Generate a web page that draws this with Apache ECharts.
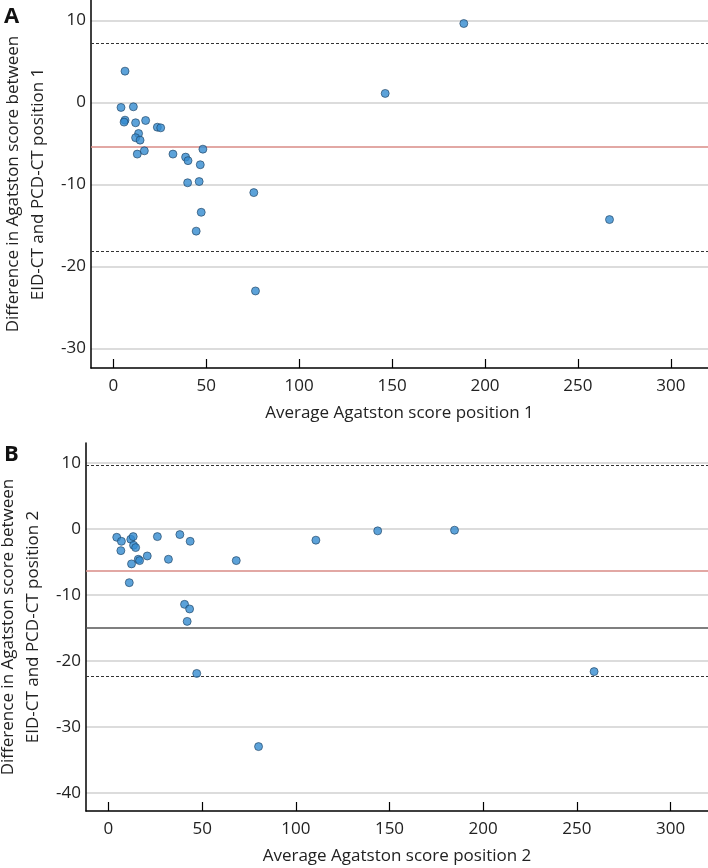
<!DOCTYPE html>
<html><head><meta charset="utf-8">
<script src="https://cdn.jsdelivr.net/npm/echarts@6/dist/echarts.min.js"></script>
<style>html,body{margin:0;padding:0;background:#fff}#c{width:708px;height:868px}</style>
</head><body><div id="c"></div>
<script>
// Panel A data: [average score, difference]
const avgA = [188.6, 6.3, 146.3, 4.15, 10.8, 6.3, 5.8, 12.0, 17.4, 23.7, 25.5, 13.6, 12.0, 14.4, 12.9, 16.7, 32.1, 38.9, 40.2, 48.2, 46.8, 40.0, 46.2, 75.6, 47.3, 44.6, 76.5, 267.0];
const diffA = [9.63, 3.82, 1.10, -0.61, -0.53, -2.16, -2.4, -2.48, -2.2, -3.02, -3.1, -3.79, -4.3, -4.6, -6.3, -5.9, -6.3, -6.67, -7.1, -5.7, -7.6, -9.8, -9.65, -11.0, -13.4, -15.7, -23.0, -14.29];
const meanA = -5.46;
const loaA = [7.23, -18.15];

// Panel B data
const avgB = [4.4, 6.9, 6.6, 11.9, 13.2, 13.4, 14.5, 12.3, 15.9, 16.6, 20.7, 11.1, 26.1, 32.0, 38.1, 43.6, 40.6, 43.3, 42.0, 47.1, 68.2, 110.7, 143.7, 184.7, 80.1, 259.2];
const diffB = [-1.27, -1.88, -3.29, -1.57, -1.17, -2.48, -2.83, -5.3, -4.6, -4.8, -4.1, -8.14, -1.17, -4.6, -0.86, -1.88, -11.42, -12.12, -14.0, -21.88, -4.8, -1.71, -0.30, -0.20, -32.95, -21.6];
const meanB = -6.35;
const loaB = [9.57, -22.27];
const refB = -15.0;

const xTicks = [0, 50, 100, 150, 200, 250, 300];
const yTicksA = [-30, -20, -10, 0, 10];
const yTicksB = [-40, -30, -20, -10, 0, 10];
const xNameA = 'Average Agatston score position 1';
const xNameB = 'Average Agatston score position 2';
const yNameA = 'Difference in Agatston score between\nEID-CT and PCD-CT position 1';
const yNameB = 'Difference in Agatston score between\nEID-CT and PCD-CT position 2';

const FONT = 'Open Sans';
const TXT = '#222';

function xAxis(gridIndex, name) {
  return {
    type: 'value', gridIndex, min: -12, max: 320, name,
    nameLocation: 'middle', nameGap: 37,
    nameTextStyle: { fontFamily: FONT, fontSize: 17, color: TXT },
    axisLine: { show: true, onZero: false, lineStyle: { color: '#000', width: 1.5 } },
    axisTick: { show: true, inside: true, length: 9, customValues: xTicks, lineStyle: { color: '#000', width: 1.2 } },
    axisLabel: { customValues: xTicks, margin: 10, fontFamily: FONT, fontSize: 17, color: TXT },
    splitLine: { show: false }
  };
}
function yAxis(gridIndex, name, min, max, ticks, gap) {
  return {
    type: 'value', gridIndex, min, max, name,
    nameLocation: 'middle', nameGap: gap,
    nameTextStyle: { fontFamily: FONT, fontSize: 17, color: TXT, lineHeight: 25 },
    axisLine: { show: true, onZero: false, lineStyle: { color: '#000', width: 1.5 } },
    axisTick: { show: false, customValues: ticks },
    axisLabel: { customValues: ticks, margin: 5, fontFamily: FONT, fontSize: 17, color: TXT },
    splitLine: { show: true, lineStyle: { color: '#d0d0d0', width: 1.5 } }
  };
}
function pts(xs, ys) { return xs.map((v, i) => [v, ys[i]]); }
function lineData(vals, color, type, width) {
  return vals.map(v => ({ yAxis: v, lineStyle: { color, type, width } }));
}
const markerStyle = { color: '#338bd0', borderColor: '#1d3f5e', borderWidth: 0.8 };

const option = {
  animation: false,
  backgroundColor: '#fff',
  grid: [
    { left: 91, top: 0, right: 0, height: 368, containLabel: false, outerBoundsMode: 'none' },
    { left: 86, top: 443, right: 0, height: 368, containLabel: false, outerBoundsMode: 'none' }
  ],
  xAxis: [xAxis(0, xNameA), xAxis(1, xNameB)],
  yAxis: [yAxis(0, yNameA, -32.4, 12.5, yTicksA, 39), yAxis(1, yNameB, -42.7, 13.0, yTicksB, 40)],
  graphic: [
    { type: 'text', left: 4, top: 6, style: { text: 'A', font: 'bold 22px "Open Sans"', fill: '#111' } },
    { type: 'text', left: 4, top: 444, style: { text: 'B', font: 'bold 22px "Open Sans"', fill: '#111' } }
  ],
  series: [
    {
      type: 'scatter', xAxisIndex: 0, yAxisIndex: 0, data: pts(avgA, diffA),
      symbolSize: 8, itemStyle: markerStyle, z: 5,
      markLine: {
        silent: true, symbol: 'none', label: { show: false }, animation: false,
        data: lineData([meanA], '#d98b86', 'solid', 1.5).concat(lineData(loaA, '#333', [3, 2], 1))
      }
    },
    {
      type: 'scatter', xAxisIndex: 1, yAxisIndex: 1, data: pts(avgB, diffB),
      symbolSize: 8, itemStyle: markerStyle, z: 5,
      markLine: {
        silent: true, symbol: 'none', label: { show: false }, animation: false,
        data: lineData([meanB], '#d98b86', 'solid', 1.5)
          .concat(lineData([refB], '#555', 'solid', 1.5))
          .concat(lineData(loaB, '#333', [3, 2], 1))
      }
    }
  ]
};
const chart = echarts.init(document.getElementById('c'), null, { renderer: 'canvas' });
chart.setOption(option);
</script></body></html>
